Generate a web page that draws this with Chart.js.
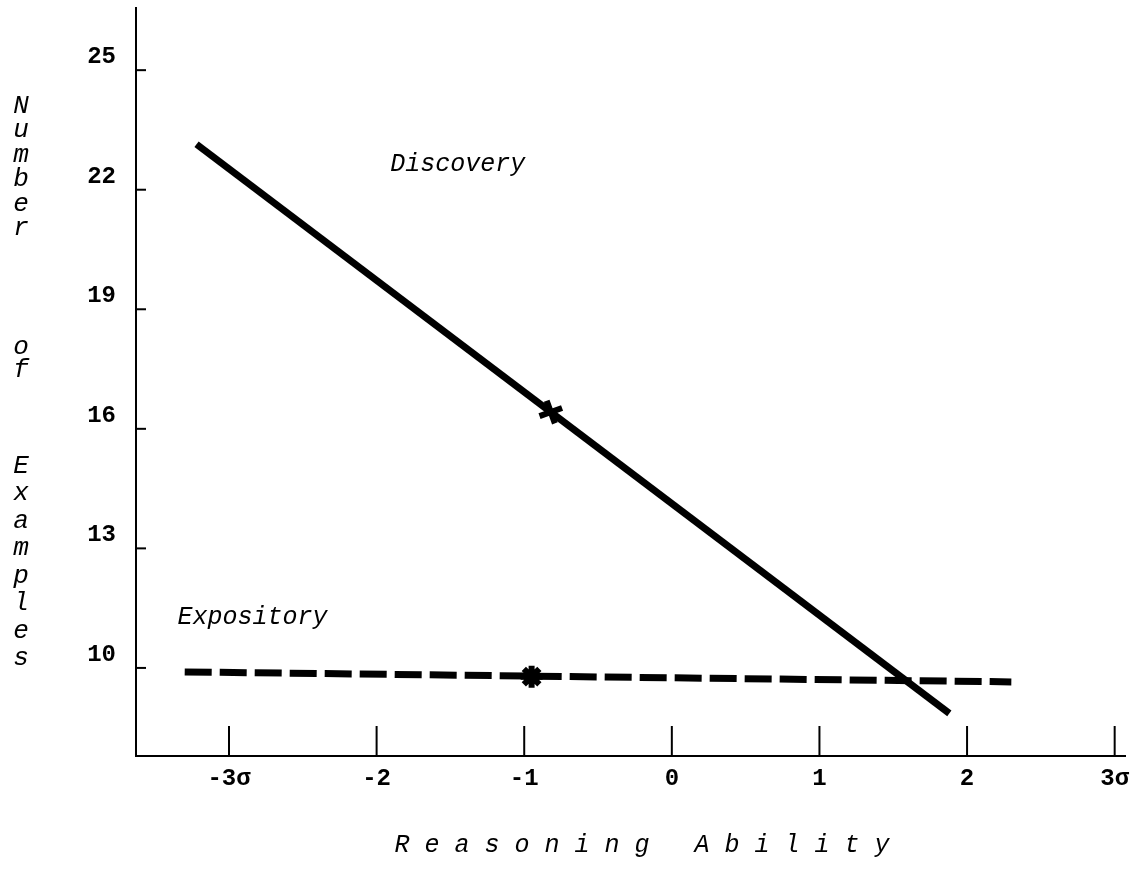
<!DOCTYPE html>
<html>
<head>
<meta charset="utf-8">
<script src="https://cdn.jsdelivr.net/npm/chart.js@4/dist/chart.umd.min.js"></script>
<style>
  html, body { margin: 0; padding: 0; background: #fff; }
  #wrap { width: 1146px; height: 871px; }
</style>
</head>
<body>
<div id="wrap"><canvas id="chart" width="1146" height="871"></canvas></div>
<script>
// valeurs
const xTicks = [-3, -2, -1, 0, 1, 2, 3];
const xTickLabels = ['-3σ', '-2', '-1', '0', '1', '2', '3σ'];
const yTicks = [10, 13, 16, 19, 22, 25];

const discoveryX = [-3.22, 1.88];
const discoveryY = [23.14, 8.86];
const expositoryX = [-3.30, 2.30];
const expositoryY = [9.90, 9.65];

// petites croix dessinées à la main sur chaque droite
const discoveryMarkX = [-0.82];
const discoveryMarkY = [16.42];
const expositoryMarkX = [-0.95];
const expositoryMarkY = [9.78];

// textes
const discoveryLabel = { text: 'Discovery', x: -1.45, y: 22.64 };
const expositoryLabel = { text: 'Expository', x: -2.84, y: 11.26 };
const yTitleWords = [
    { letters: 'Number', top: 106, step: 24.5 },
    { letters: 'of', top: 347, step: 23 },
    { letters: 'Examples', top: 466, step: 27.5 }
];
const xTitle = 'R e a s o n i n g   A b i l i t y';

const toPoints = (xs, ys) => xs.map((x, i) => ({ x: x, y: ys[i] }));

const MONO = '"Liberation Mono", "DejaVu Sans Mono", monospace';

// Ticks tournés vers l'intérieur + textes libres
const paperPlugin = {
    id: 'paper',
    afterDraw(chart) {
        const { ctx, chartArea, scales } = chart;
        const xs = scales.x, ys = scales.y;
        ctx.save();
        ctx.strokeStyle = '#000';
        ctx.lineWidth = 2;
        // ticks de l'axe x (vers le haut)
        xTicks.forEach(v => {
            const px = xs.getPixelForValue(v);
            ctx.beginPath();
            ctx.moveTo(px, chartArea.bottom);
            ctx.lineTo(px, chartArea.bottom - 30);
            ctx.stroke();
        });
        // ticks de l'axe y (vers la droite)
        yTicks.forEach(v => {
            const py = ys.getPixelForValue(v);
            ctx.beginPath();
            ctx.moveTo(chartArea.left, py);
            ctx.lineTo(chartArea.left + 10, py);
            ctx.stroke();
        });

        ctx.fillStyle = '#000';
        ctx.font = 'italic 25px ' + MONO;
        ctx.textAlign = 'center';
        ctx.textBaseline = 'middle';
        ctx.fillText(discoveryLabel.text, xs.getPixelForValue(discoveryLabel.x), ys.getPixelForValue(discoveryLabel.y));
        ctx.fillText(expositoryLabel.text, xs.getPixelForValue(expositoryLabel.x), ys.getPixelForValue(expositoryLabel.y));

        // titre vertical, lettre par lettre
        ctx.font = 'italic 26px ' + MONO;
        yTitleWords.forEach(w => {
            w.letters.split('').forEach((ch, i) => ctx.fillText(ch, 21, w.top + i * w.step));
        });

        // titre de l'axe x
        ctx.font = 'italic 25px ' + MONO;
        ctx.fillText(xTitle, 642, 845);
        ctx.restore();
    }
};

new Chart(document.getElementById('chart').getContext('2d'), {
    type: 'scatter',
    data: {
        datasets: [
            {
                label: 'Discovery',
                data: toPoints(discoveryX, discoveryY),
                showLine: true,
                borderColor: '#000',
                borderWidth: 7,
                pointRadius: 0,
                borderCapStyle: 'butt'
            },
            {
                label: 'Expository',
                data: toPoints(expositoryX, expositoryY),
                showLine: true,
                borderColor: '#000',
                borderWidth: 7,
                borderDash: [27, 8],
                pointRadius: 0,
                borderCapStyle: 'butt'
            },
            {
                label: 'Discovery mark',
                data: toPoints(discoveryMarkX, discoveryMarkY),
                pointStyle: 'crossRot',
                pointRadius: 12,
                pointRotation: 25,
                pointBorderWidth: 6,
                pointBorderColor: '#000',
                pointBackgroundColor: '#000'
            },
            {
                label: 'Expository mark',
                data: toPoints(expositoryMarkX, expositoryMarkY),
                pointStyle: 'star',
                pointRadius: 11,
                pointBorderWidth: 6,
                pointBorderColor: '#000',
                pointBackgroundColor: '#000'
            }
        ]
    },
    plugins: [paperPlugin],
    options: {
        responsive: false,
        animation: false,
        maintainAspectRatio: false,
        layout: { autoPadding: false, padding: { left: 0, top: 8, right: 21, bottom: 0 } },
        scales: {
            x: {
                type: 'linear',
                min: -3.63,
                max: 3.07,
                afterBuildTicks: (scale) => { scale.ticks = xTicks.map(v => ({ value: v })); },
                afterFit: (scale) => { scale.height = 115; scale.paddingLeft = 0; scale.paddingRight = 0; },
                grid: { display: false, drawTicks: false },
                border: { display: true, color: '#000', width: 2 },
                ticks: {
                    color: '#000',
                    padding: 9,
                    maxRotation: 0,
                    font: { family: MONO, size: 24, weight: 'bold' },
                    callback: (v) => xTickLabels[xTicks.indexOf(v)]
                }
            },
            y: {
                type: 'linear',
                min: 7.79,
                max: 26.56,
                afterBuildTicks: (scale) => { scale.ticks = yTicks.map(v => ({ value: v })); },
                afterFit: (scale) => { scale.width = 136; scale.paddingTop = 0; scale.paddingBottom = 0; },
                grid: { display: false, drawTicks: false },
                border: { display: true, color: '#000', width: 2 },
                ticks: {
                    color: '#000',
                    padding: 20,
                    labelOffset: -13,
                    font: { family: MONO, size: 24, weight: 'bold' }
                }
            }
        },
        plugins: {
            legend: { display: false },
            tooltip: { enabled: false }
        }
    }
});
</script>
</body>
</html>
